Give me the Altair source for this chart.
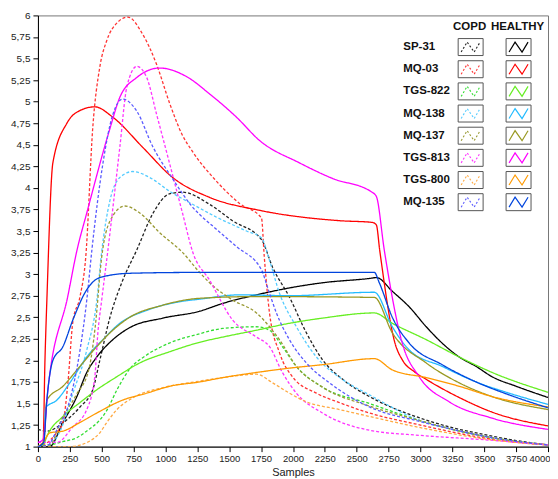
import altair as alt
import pandas as pd

SENSORS = ["SP-31", "MQ-03", "TGS-822", "MQ-138", "MQ-137", "TGS-813", "TGS-800", "MQ-135"]
GROUPS = ["COPD", "HEALTHY"]
HEALTHY_COLORS = ["#000000", "#ff0000", "#66ee22", "#22bbff", "#999922", "#ff00ff", "#ff9900", "#0044dd"]
COPD_COLORS = ["#222222", "#ff3333", "#33dd33", "#55ccff", "#999933", "#ff33ff", "#ffaa44", "#5a5aff"]
X_TICKS = list(range(0, 4001, 250))
Y_TICKS = [1 + 0.25 * i for i in range(21)]

# ---- SP-31 ----
sp31_healthy_x = [0, 90, 196, 305, 383, 462, 587, 720, 979, 1268, 1448, 1714, 1972, 2231, 2599, 2654, 2780, 2912, 3045, 3170, 3303, 3436, 3562, 3750, 4000]
sp31_healthy_y = [1.0, 1.0, 1.28, 1.58, 1.86, 2.04, 2.24, 2.38, 2.49, 2.57, 2.66, 2.76, 2.84, 2.90, 2.95, 2.96, 2.80, 2.62, 2.39, 2.20, 2.04, 1.93, 1.81, 1.70, 1.57]
sp31_copd_x = [0, 70, 200, 330, 430, 485, 565, 665, 775, 900, 1030, 1135, 1345, 1525, 1753, 1840, 1970, 2105, 2230, 2390, 2600, 2750, 3000, 3250, 3500, 3750, 4000]
sp31_copd_y = [1.2, 1.18, 1.28, 1.46, 1.66, 2.0, 2.5, 2.93, 3.28, 3.70, 3.93, 3.95, 3.81, 3.62, 3.40, 3.08, 2.74, 2.32, 2.01, 1.78, 1.58, 1.47, 1.33, 1.22, 1.14, 1.07, 1.02]

# ---- MQ-03 ----
mq03_healthy_x = [0, 40, 55, 70, 117, 227, 320, 446, 587, 822, 1057, 1346, 1738, 2364, 2623, 2654, 2680, 2800, 2860, 2950, 3045, 3303, 3562, 4000]
mq03_healthy_y = [1.0, 1.03, 2.0, 2.70, 4.29, 4.75, 4.89, 4.94, 4.82, 4.47, 4.12, 3.89, 3.74, 3.62, 3.60, 3.57, 3.28, 2.20, 2.0, 1.87, 1.78, 1.57, 1.40, 1.24]
mq03_copd_x = [0, 100, 150, 196, 235, 274, 330, 375, 430, 485, 540, 618, 705, 822, 931, 1033, 1130, 1213, 1386, 1581, 1753, 1775, 1816, 1894, 1996, 2184, 2364, 2600, 3000, 3250, 3500, 3750, 4000]
mq03_copd_y = [1.0, 1.08, 1.17, 1.28, 1.74, 2.45, 2.74, 3.2, 4.7, 5.40, 5.71, 5.91, 5.98, 5.78, 5.43, 4.98, 4.62, 4.42, 4.10, 3.82, 3.65, 3.2, 2.55, 2.09, 1.81, 1.62, 1.51, 1.39, 1.25, 1.17, 1.10, 1.05, 1.02]

# ---- TGS-822 ----
tgs822_healthy_x = [0, 45, 70, 196, 329, 462, 618, 798, 1033, 1268, 1448, 1714, 1972, 2231, 2638, 2779, 3045, 3303, 3562, 4000]
tgs822_healthy_y = [1.0, 1.03, 1.12, 1.35, 1.51, 1.66, 1.81, 1.97, 2.10, 2.21, 2.27, 2.35, 2.43, 2.49, 2.55, 2.43, 2.24, 2.04, 1.86, 1.63]
tgs822_copd_x = [0, 100, 200, 300, 400, 480, 540, 620, 720, 850, 1030, 1270, 1450, 1710, 1816, 1917, 2027, 2231, 2600, 3000, 3250, 3500, 3750, 4000]
tgs822_copd_y = [1.0, 1.02, 1.06, 1.1, 1.2, 1.3, 1.42, 1.66, 1.9, 2.06, 2.2, 2.31, 2.37, 2.39, 2.35, 2.16, 1.93, 1.69, 1.5, 1.3, 1.2, 1.12, 1.06, 1.02]

# ---- MQ-138 ----
mq138_healthy_x = [0, 45, 60, 149, 250, 383, 509, 642, 853, 1111, 1268, 1581, 1972, 2638, 2779, 2912, 3170, 3436, 3695, 4000]
mq138_healthy_y = [1.0, 1.05, 1.45, 1.54, 1.74, 2.04, 2.24, 2.43, 2.58, 2.68, 2.71, 2.76, 2.75, 2.79, 2.39, 2.12, 1.93, 1.75, 1.62, 1.49]
mq138_copd_x = [0, 100, 180, 274, 383, 462, 500, 564, 642, 744, 877, 1033, 1213, 1401, 1636, 1753, 1816, 1894, 2027, 2184, 2387, 2600, 3000, 3250, 3500, 3750, 4000]
mq138_copd_y = [1.0, 1.03, 1.2, 1.62, 2.12, 2.70, 3.26, 3.85, 4.12, 4.19, 4.12, 3.96, 3.81, 3.66, 3.50, 3.42, 3.16, 2.78, 2.39, 2.04, 1.78, 1.6, 1.3, 1.2, 1.12, 1.06, 1.02]

# ---- MQ-137 ----
mq137_healthy_x = [0, 45, 70, 196, 329, 462, 587, 720, 979, 1268, 1714, 2638, 2779, 3045, 3303, 3562, 4000]
mq137_healthy_y = [1.0, 1.05, 1.54, 1.70, 1.93, 2.16, 2.35, 2.50, 2.64, 2.72, 2.74, 2.73, 2.32, 1.97, 1.74, 1.58, 1.43]
mq137_copd_x = [0, 100, 180, 300, 400, 450, 500, 560, 681, 798, 955, 1135, 1268, 1346, 1526, 1714, 1816, 1894, 2027, 2231, 2600, 3000, 3250, 3500, 3750, 4000]
mq137_copd_y = [1.0, 1.03, 1.3, 1.6, 1.9, 2.4, 3.2, 3.6, 3.79, 3.71, 3.48, 3.25, 3.02, 2.90, 2.70, 2.55, 2.39, 2.24, 1.93, 1.69, 1.47, 1.3, 1.2, 1.12, 1.06, 1.02]

# ---- TGS-813 ----
tgs813_healthy_x = [0, 40, 78, 235, 305, 383, 563, 642, 775, 955, 1166, 1346, 1557, 1738, 2051, 2309, 2620, 2654, 2716, 2857, 2990, 3225, 3562, 4000]
tgs813_healthy_y = [1.05, 1.08, 1.66, 2.75, 3.27, 3.71, 4.68, 5.05, 5.28, 5.39, 5.29, 5.09, 4.82, 4.55, 4.29, 4.11, 3.95, 3.90, 3.28, 2.2, 1.81, 1.52, 1.33, 1.20]
tgs813_copd_x = [0, 150, 274, 383, 446, 470, 500, 548, 642, 697, 775, 853, 931, 1033, 1135, 1213, 1346, 1526, 1714, 1816, 1917, 2027, 2231, 2600, 3000, 3500, 4000]
tgs813_copd_y = [1.05, 1.05, 1.23, 1.43, 1.81, 2.32, 2.7, 3.27, 4.47, 5.17, 5.41, 5.28, 4.85, 4.28, 3.70, 3.26, 2.93, 2.47, 2.27, 2.16, 1.86, 1.62, 1.39, 1.19, 1.13, 1.08, 1.02]

# ---- TGS-800 ----
tgs800_healthy_x = [0, 40, 94, 196, 329, 462, 665, 853, 1033, 1268, 1448, 1714, 1972, 2231, 2638, 2779, 3045, 3303, 3562, 4000]
tgs800_healthy_y = [1.0, 1.05, 1.16, 1.18, 1.28, 1.39, 1.54, 1.62, 1.70, 1.75, 1.80, 1.86, 1.91, 1.95, 2.02, 1.89, 1.80, 1.70, 1.58, 1.46]
tgs800_copd_x = [0, 250, 400, 485, 540, 620, 750, 1000, 1270, 1450, 1714, 1840, 1972, 2105, 2364, 2600, 3000, 3250, 3500, 3750, 4000]
tgs800_copd_y = [1.0, 1.0, 1.06, 1.16, 1.28, 1.43, 1.57, 1.69, 1.76, 1.80, 1.84, 1.74, 1.62, 1.52, 1.43, 1.35, 1.22, 1.15, 1.09, 1.05, 1.02]

# ---- MQ-135 ----
mq135_healthy_x = [0, 45, 70, 117, 196, 274, 383, 485, 720, 1244, 2638, 2677, 2779, 2912, 3170, 3436, 3695, 4000]
mq135_healthy_y = [1.0, 1.05, 1.54, 2.0, 2.16, 2.47, 2.82, 2.96, 3.01, 3.02, 3.02, 2.90, 2.5, 2.20, 1.95, 1.75, 1.60, 1.45]
mq135_copd_x = [0, 80, 150, 250, 330, 383, 423, 509, 587, 665, 775, 900, 1050, 1200, 1400, 1557, 1753, 1800, 1870, 1972, 2105, 2286, 2600, 3000, 3250, 3500, 3750, 4000]
mq135_copd_y = [1.0, 1.02, 1.2, 1.54, 2.12, 2.70, 3.28, 4.28, 4.85, 5.03, 4.89, 4.48, 4.12, 3.80, 3.52, 3.32, 3.05, 2.85, 2.55, 2.24, 1.97, 1.74, 1.46, 1.29, 1.2, 1.12, 1.06, 1.02]

series = {
    ("SP-31", "COPD"): (sp31_copd_x, sp31_copd_y),
    ("SP-31", "HEALTHY"): (sp31_healthy_x, sp31_healthy_y),
    ("MQ-03", "COPD"): (mq03_copd_x, mq03_copd_y),
    ("MQ-03", "HEALTHY"): (mq03_healthy_x, mq03_healthy_y),
    ("TGS-822", "COPD"): (tgs822_copd_x, tgs822_copd_y),
    ("TGS-822", "HEALTHY"): (tgs822_healthy_x, tgs822_healthy_y),
    ("MQ-138", "COPD"): (mq138_copd_x, mq138_copd_y),
    ("MQ-138", "HEALTHY"): (mq138_healthy_x, mq138_healthy_y),
    ("MQ-137", "COPD"): (mq137_copd_x, mq137_copd_y),
    ("MQ-137", "HEALTHY"): (mq137_healthy_x, mq137_healthy_y),
    ("TGS-813", "COPD"): (tgs813_copd_x, tgs813_copd_y),
    ("TGS-813", "HEALTHY"): (tgs813_healthy_x, tgs813_healthy_y),
    ("TGS-800", "COPD"): (tgs800_copd_x, tgs800_copd_y),
    ("TGS-800", "HEALTHY"): (tgs800_healthy_x, tgs800_healthy_y),
    ("MQ-135", "COPD"): (mq135_copd_x, mq135_copd_y),
    ("MQ-135", "HEALTHY"): (mq135_healthy_x, mq135_healthy_y),
}

rows = []
for (s, g), (xs, ys) in series.items():
    assert len(xs) == len(ys), (s, g)
    for i, (a, b) in enumerate(zip(xs, ys)):
        rows.append({"sensor": s, "group": g, "key": f"{s} {g}", "sample": a, "value": b, "order": i})
df = pd.DataFrame(rows)

key_domain = []
key_range = []
for i, s in enumerate(SENSORS):
    key_domain += [f"{s} COPD", f"{s} HEALTHY"]
    key_range += [COPD_COLORS[i], HEALTHY_COLORS[i]]

W, H = 511, 432
FONT = "'Liberation Sans', Arial, sans-serif"

lines = alt.Chart(df).mark_line(interpolate="monotone", strokeWidth=1.3, clip=True).encode(
    x=alt.X("sample:Q", scale=alt.Scale(domain=[0, 4000], nice=False, zero=False),
            axis=alt.Axis(values=X_TICKS, format="d", title="Samples", labelOverlap=False,
                          labelFlush=False, grid=False, labelFontSize=9.5,
                          labelAlign={"expr": "datum.value >= 4000 ? 'right' : 'center'"},
                          labelOffset={"expr": "datum.value >= 4000 ? 2 : 0"})),
    y=alt.Y("value:Q", scale=alt.Scale(domain=[1, 6], nice=False, zero=False),
            axis=alt.Axis(values=Y_TICKS, labelExpr="replace(format(datum.value, '~g'), '.', ',')",
                          title=None, labelOverlap=False, grid=False)),
    color=alt.Color("key:N", scale=alt.Scale(domain=key_domain, range=key_range), legend=None),
    strokeDash=alt.StrokeDash("group:N", scale=alt.Scale(domain=GROUPS, range=[[3, 2], [1, 0]]), legend=None),
    detail="key:N",
    order="order:Q",
)

# ---- custom legend (pixel positions inside plot area) ----
ROW0, ROW_STEP = 31.7, 22.2
COPD_BOX_X, HEALTHY_BOX_X, BOX_W, BOX_H = 421, 469, 25, 17

label_rows = [{"px": 366, "py": ROW0 + ROW_STEP * i, "text": s} for i, s in enumerate(SENSORS)]
header_rows = [{"px": COPD_BOX_X + BOX_W / 2 - 1, "py": 11.5, "text": "COPD"},
               {"px": HEALTHY_BOX_X + BOX_W / 2 - 1, "py": 11.5, "text": "HEALTHY"}]

box_rows = []
zig_rows = []
zig_shape = [(3, 5), (9, -5), (16, 5), (22, -5)]
for i, s in enumerate(SENSORS):
    yc = ROW0 + ROW_STEP * i
    for g, bx, col in (("COPD", COPD_BOX_X, COPD_COLORS[i]), ("HEALTHY", HEALTHY_BOX_X, HEALTHY_COLORS[i])):
        box_rows.append({"x1": bx, "x2": bx + BOX_W, "y1": yc - BOX_H / 2, "y2": yc + BOX_H / 2})
        for j, (dx, dy) in enumerate(zig_shape):
            zig_rows.append({"px": bx + dx, "py": yc + dy, "k": f"{s} {g}", "grp": g, "col": col, "o": j})

labels = alt.Chart(pd.DataFrame(label_rows)).mark_text(
    align="left", baseline="middle", font="Liberation Sans, Arial, sans-serif", fontWeight="bold",
    fontSize=11.5, color="#111").encode(
    x=alt.X("px:Q", scale=None, axis=None), y=alt.Y("py:Q", scale=None, axis=None), text="text:N")
headers = alt.Chart(pd.DataFrame(header_rows)).mark_text(
    align="center", baseline="middle", font="Liberation Sans, Arial, sans-serif", fontWeight="bold",
    fontSize=11.5, color="#111").encode(
    x=alt.X("px:Q", scale=None, axis=None), y=alt.Y("py:Q", scale=None, axis=None), text="text:N")
boxes = alt.Chart(pd.DataFrame(box_rows)).mark_rect(fill="white", stroke="#555555", strokeWidth=1).encode(
    x=alt.X("x1:Q", scale=None, axis=None), x2="x2:Q",
    y=alt.Y("y1:Q", scale=None, axis=None), y2="y2:Q")
zdf = pd.DataFrame(zig_rows)
zig_c = alt.Chart(zdf[zdf.grp == "COPD"]).mark_line(strokeWidth=1.1, strokeDash=[2, 2]).encode(
    x=alt.X("px:Q", scale=None, axis=None), y=alt.Y("py:Q", scale=None, axis=None),
    color=alt.Color("col:N", scale=None, legend=None), detail="k:N", order="o:Q")
zig_h = alt.Chart(zdf[zdf.grp == "HEALTHY"]).mark_line(strokeWidth=1.2).encode(
    x=alt.X("px:Q", scale=None, axis=None), y=alt.Y("py:Q", scale=None, axis=None),
    color=alt.Color("col:N", scale=None, legend=None), detail="k:N", order="o:Q")

chart = alt.layer(lines, boxes, zig_c, zig_h, labels, headers).resolve_scale(
    x="independent", y="independent", color="independent"
).properties(
    width=W, height=H, autosize="none",
    padding={"left": 30, "top": 7, "right": 2, "bottom": 32},
).configure_view(
    stroke="#777777", strokeWidth=1
).configure_axis(
    domainColor="#000000", domainWidth=1, tickColor="#000000", tickSize=5,
    labelFont=FONT, labelFontSize=10, labelColor="#222222", labelPadding=2,
    titleFont=FONT, titleFontSize=11, titleFontWeight="normal", titleColor="#222222",
).configure_axisX(titlePadding=3).configure_axisY(labelPadding=3)

chart.save("out.html", embed_options={"renderer": "svg", "actions": False})
